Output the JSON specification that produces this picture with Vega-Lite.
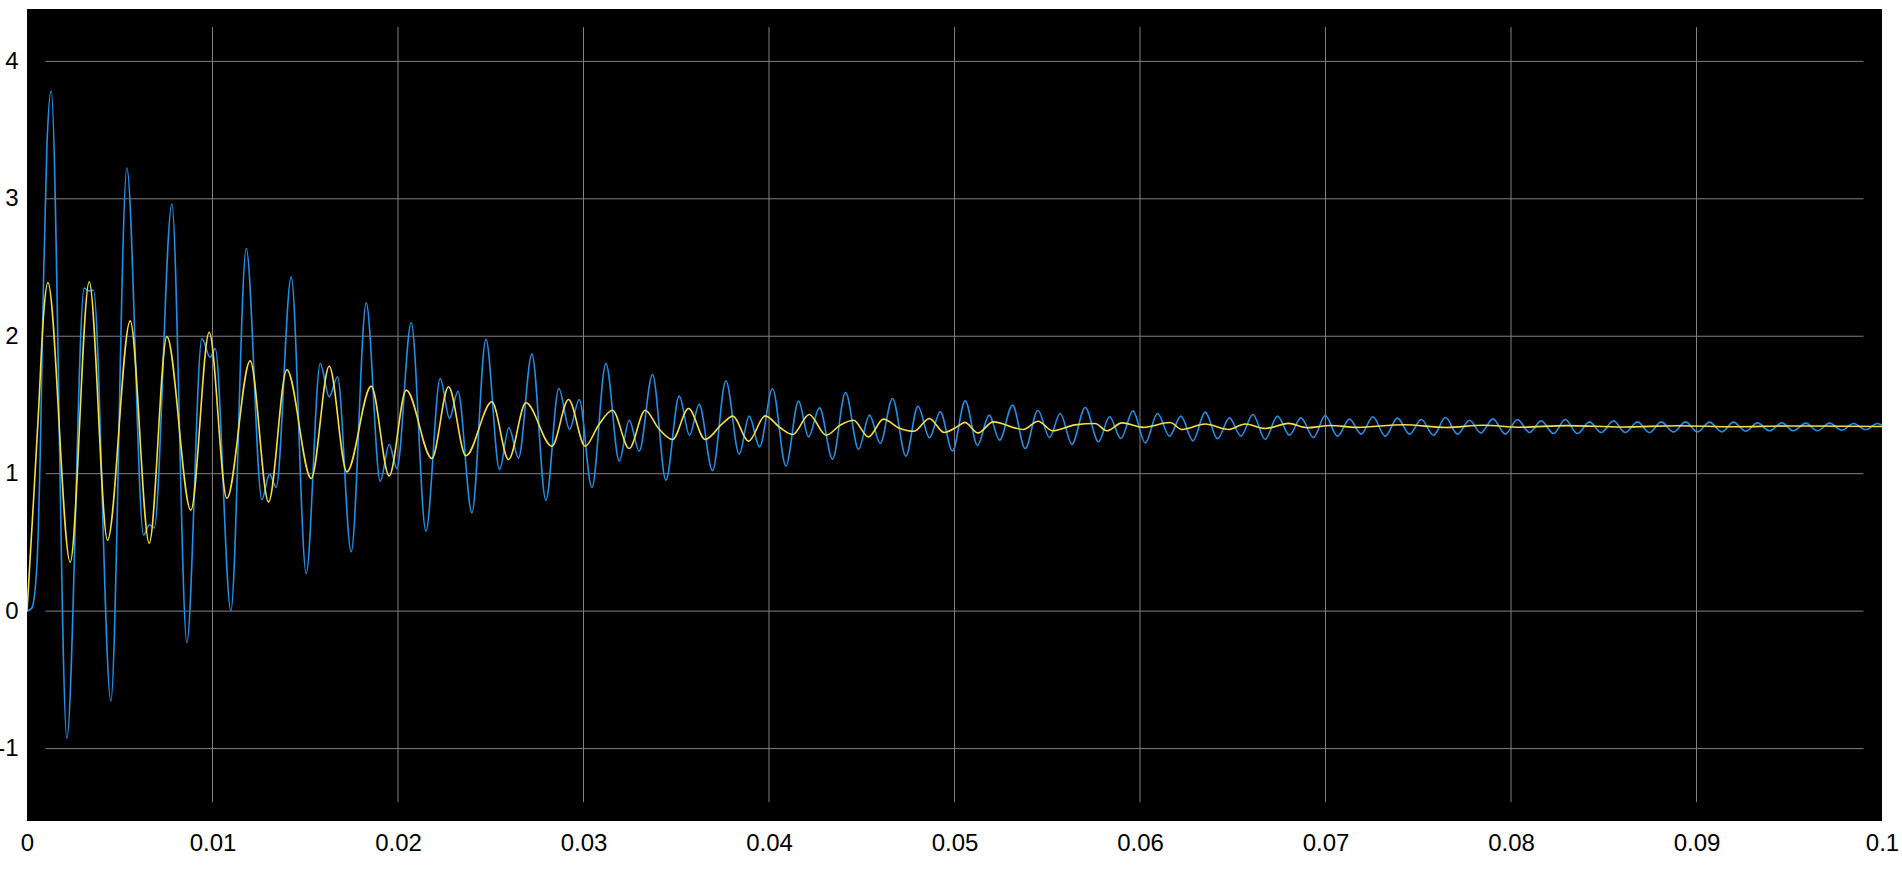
{
  "$schema": "https://vega.github.io/schema/vega-lite/v6.json",
  "width": 1855,
  "height": 812,
  "autosize": "none",
  "padding": {"left": 27, "top": 9, "right": 20, "bottom": 75},
  "background": "white",
  "view": {"fill": "black", "stroke": null},
  "datasets": {
    "hgrid": [{"g": -1}, {"g": 0}, {"g": 1}, {"g": 2}, {"g": 3}, {"g": 4}],
    "vgrid": [{"g": 0.01}, {"g": 0.02}, {"g": 0.03}, {"g": 0.04}, {"g": 0.05}, {"g": 0.06}, {"g": 0.07}, {"g": 0.08}, {"g": 0.09}],
    "blue": [
      {"t": 0, "v": 0}, {"t": 0.00025, "v": 0.02}, {"t": 0.00053, "v": 0.32}, {"t": 0.00071, "v": 1.13}, {"t": 0.00089, "v": 2.4}, {"t": 0.00107, "v": 3.37},
      {"t": 0.001305, "v": 3.785}, {"t": 0.00215, "v": -0.926}, {"t": 0.003084, "v": 2.35}, {"t": 0.003335, "v": 2.33}, {"t": 0.003586, "v": 2.335},
      {"t": 0.004521, "v": -0.654}, {"t": 0.005384, "v": 3.224}, {"t": 0.006282, "v": 0.554}, {"t": 0.006605, "v": 0.628}, {"t": 0.006857, "v": 0.606},
      {"t": 0.00781, "v": 2.962}, {"t": 0.008618, "v": -0.228}, {"t": 0.009427, "v": 1.984}, {"t": 0.009876, "v": 1.846}, {"t": 0.010146, "v": 1.91},
      {"t": 0.01099, "v": 0.003}, {"t": 0.011817, "v": 2.638}, {"t": 0.012661, "v": 0.811}, {"t": 0.013074, "v": 0.997}, {"t": 0.013434, "v": 0.901},
      {"t": 0.014243, "v": 2.432}, {"t": 0.015051, "v": 0.274}, {"t": 0.015806, "v": 1.802}, {"t": 0.016291, "v": 1.559}, {"t": 0.016739, "v": 1.705},
      {"t": 0.017477, "v": 0.431}, {"t": 0.018286, "v": 2.243}, {"t": 0.019041, "v": 0.945}, {"t": 0.019526, "v": 1.212}, {"t": 0.01994, "v": 1.037},
      {"t": 0.020712, "v": 2.098}, {"t": 0.021504, "v": 0.582}, {"t": 0.022275, "v": 1.693}, {"t": 0.022777, "v": 1.402}, {"t": 0.023229, "v": 1.6},
      {"t": 0.023984, "v": 0.715}, {"t": 0.024739, "v": 1.977}, {"t": 0.025472, "v": 1.03}, {"t": 0.025978, "v": 1.334}, {"t": 0.026496, "v": 1.115},
      {"t": 0.027218, "v": 1.87}, {"t": 0.027973, "v": 0.807}, {"t": 0.02867, "v": 1.62}, {"t": 0.029246, "v": 1.322}, {"t": 0.029768, "v": 1.54},
      {"t": 0.030453, "v": 0.9}, {"t": 0.031208, "v": 1.802}, {"t": 0.031925, "v": 1.093}, {"t": 0.032463, "v": 1.389}, {"t": 0.033003, "v": 1.164},
      {"t": 0.03372, "v": 1.722}, {"t": 0.034441, "v": 0.953}, {"t": 0.035159, "v": 1.564}, {"t": 0.035715, "v": 1.28}, {"t": 0.036237, "v": 1.504},
      {"t": 0.036955, "v": 1.021}, {"t": 0.037675, "v": 1.676}, {"t": 0.038393, "v": 1.142}, {"t": 0.038932, "v": 1.419}, {"t": 0.039489, "v": 1.195},
      {"t": 0.040189, "v": 1.618}, {"t": 0.040911, "v": 1.057}, {"t": 0.041591, "v": 1.528}, {"t": 0.04213, "v": 1.268}, {"t": 0.042723, "v": 1.479},
      {"t": 0.043425, "v": 1.106}, {"t": 0.044127, "v": 1.591}, {"t": 0.044825, "v": 1.178}, {"t": 0.045418, "v": 1.426}, {"t": 0.045995, "v": 1.22},
      {"t": 0.046658, "v": 1.547}, {"t": 0.04738, "v": 1.127}, {"t": 0.048027, "v": 1.491}, {"t": 0.048652, "v": 1.261}, {"t": 0.049229, "v": 1.45},
      {"t": 0.049892, "v": 1.166}, {"t": 0.050577, "v": 1.53}, {"t": 0.05124, "v": 1.207}, {"t": 0.051871, "v": 1.426}, {"t": 0.052426, "v": 1.244},
      {"t": 0.053127, "v": 1.499}, {"t": 0.053812, "v": 1.183}, {"t": 0.054496, "v": 1.462}, {"t": 0.055122, "v": 1.263}, {"t": 0.055698, "v": 1.438},
      {"t": 0.056329, "v": 1.215}, {"t": 0.057046, "v": 1.482}, {"t": 0.057763, "v": 1.232}, {"t": 0.058356, "v": 1.414}, {"t": 0.058971, "v": 1.256},
      {"t": 0.059618, "v": 1.457}, {"t": 0.06028, "v": 1.224}, {"t": 0.060944, "v": 1.438}, {"t": 0.06159, "v": 1.273}, {"t": 0.062205, "v": 1.419},
      {"t": 0.062852, "v": 1.239}, {"t": 0.063515, "v": 1.448}, {"t": 0.064178, "v": 1.254}, {"t": 0.064825, "v": 1.406}, {"t": 0.065439, "v": 1.273},
      {"t": 0.066086, "v": 1.431}, {"t": 0.066749, "v": 1.249}, {"t": 0.067412, "v": 1.419}, {"t": 0.068059, "v": 1.28}, {"t": 0.068674, "v": 1.406},
      {"t": 0.069353, "v": 1.263}, {"t": 0.069984, "v": 1.423}, {"t": 0.070647, "v": 1.273}, {"t": 0.071294, "v": 1.397}, {"t": 0.071925, "v": 1.288},
      {"t": 0.072555, "v": 1.414}, {"t": 0.073218, "v": 1.273}, {"t": 0.073881, "v": 1.404}, {"t": 0.074528, "v": 1.288}, {"t": 0.075159, "v": 1.394},
      {"t": 0.075822, "v": 1.28}, {"t": 0.076469, "v": 1.409}, {"t": 0.077116, "v": 1.288}, {"t": 0.077763, "v": 1.389}, {"t": 0.078377, "v": 1.297},
      {"t": 0.079024, "v": 1.399}, {"t": 0.079687, "v": 1.288}, {"t": 0.08035, "v": 1.394}, {"t": 0.080997, "v": 1.3}, {"t": 0.081628, "v": 1.384},
      {"t": 0.082291, "v": 1.292}, {"t": 0.082922, "v": 1.394}, {"t": 0.083585, "v": 1.292}, {"t": 0.084232, "v": 1.377}, {"t": 0.084863, "v": 1.3},
      {"t": 0.085526, "v": 1.384}, {"t": 0.086156, "v": 1.3}, {"t": 0.086819, "v": 1.377}, {"t": 0.087466, "v": 1.3}, {"t": 0.088097, "v": 1.377},
      {"t": 0.08876, "v": 1.304}, {"t": 0.089407, "v": 1.377}, {"t": 0.090054, "v": 1.304}, {"t": 0.090701, "v": 1.375}, {"t": 0.091366, "v": 1.304},
      {"t": 0.091992, "v": 1.375}, {"t": 0.092661, "v": 1.309}, {"t": 0.093286, "v": 1.37}, {"t": 0.093933, "v": 1.312}, {"t": 0.094602, "v": 1.37},
      {"t": 0.095226, "v": 1.312}, {"t": 0.095895, "v": 1.368}, {"t": 0.09652, "v": 1.312}, {"t": 0.097167, "v": 1.368}, {"t": 0.097836, "v": 1.316},
      {"t": 0.098461, "v": 1.365}, {"t": 0.099129, "v": 1.321}, {"t": 0.099755, "v": 1.365}, {"t": 0.1, "v": 1.353}
    ],
    "yellow": [
      {"t": 0, "v": 0}, {"t": 0.00035, "v": 0.8}, {"t": 0.00062, "v": 1.45}, {"t": 0.00089, "v": 2.15}, {"t": 0.001125, "v": 2.391},
      {"t": 0.002329, "v": 0.356}, {"t": 0.003353, "v": 2.397}, {"t": 0.004341, "v": 0.516}, {"t": 0.005563, "v": 2.112}, {"t": 0.006588, "v": 0.494},
      {"t": 0.00754, "v": 1.997}, {"t": 0.008834, "v": 0.734}, {"t": 0.009822, "v": 2.029}, {"t": 0.010775, "v": 0.821}, {"t": 0.012032, "v": 1.821},
      {"t": 0.01302, "v": 0.795}, {"t": 0.014009, "v": 1.756}, {"t": 0.015321, "v": 0.965}, {"t": 0.016291, "v": 1.782}, {"t": 0.017245, "v": 1.013},
      {"t": 0.018555, "v": 1.637}, {"t": 0.019526, "v": 0.984}, {"t": 0.020442, "v": 1.608}, {"t": 0.021827, "v": 1.111}, {"t": 0.022723, "v": 1.632},
      {"t": 0.02366, "v": 1.13}, {"t": 0.025062, "v": 1.523}, {"t": 0.02596, "v": 1.103}, {"t": 0.026895, "v": 1.516}, {"t": 0.028296, "v": 1.2},
      {"t": 0.029193, "v": 1.54}, {"t": 0.030092, "v": 1.2}, {"t": 0.030809, "v": 1.353}, {"t": 0.031563, "v": 1.462}, {"t": 0.032463, "v": 1.183},
      {"t": 0.033326, "v": 1.462}, {"t": 0.034043, "v": 1.33}, {"t": 0.034801, "v": 1.249}, {"t": 0.035663, "v": 1.474}, {"t": 0.03656, "v": 1.249},
      {"t": 0.03746, "v": 1.36}, {"t": 0.038053, "v": 1.419}, {"t": 0.038895, "v": 1.237}, {"t": 0.039795, "v": 1.421}, {"t": 0.040604, "v": 1.334},
      {"t": 0.04129, "v": 1.285}, {"t": 0.042165, "v": 1.431}, {"t": 0.043083, "v": 1.28}, {"t": 0.043838, "v": 1.353}, {"t": 0.044556, "v": 1.389},
      {"t": 0.045364, "v": 1.268}, {"t": 0.046173, "v": 1.397}, {"t": 0.047, "v": 1.333}, {"t": 0.04783, "v": 1.309}, {"t": 0.048638, "v": 1.402},
      {"t": 0.049447, "v": 1.3}, {"t": 0.050216, "v": 1.348}, {"t": 0.050556, "v": 1.373}, {"t": 0.051274, "v": 1.297}, {"t": 0.052083, "v": 1.377},
      {"t": 0.0537, "v": 1.322}, {"t": 0.054509, "v": 1.382}, {"t": 0.055285, "v": 1.312}, {"t": 0.0565, "v": 1.355}, {"t": 0.057584, "v": 1.365},
      {"t": 0.058216, "v": 1.312}, {"t": 0.059025, "v": 1.37}, {"t": 0.06017, "v": 1.337}, {"t": 0.061628, "v": 1.372}, {"t": 0.062259, "v": 1.322},
      {"t": 0.063515, "v": 1.362}, {"t": 0.064771, "v": 1.322}, {"t": 0.065671, "v": 1.362}, {"t": 0.066749, "v": 1.329}, {"t": 0.068007, "v": 1.366},
      {"t": 0.068998, "v": 1.334}, {"t": 0.070253, "v": 1.351}, {"t": 0.071693, "v": 1.337}, {"t": 0.074205, "v": 1.356}, {"t": 0.0765, "v": 1.336},
      {"t": 0.0785, "v": 1.352}, {"t": 0.0805, "v": 1.338}, {"t": 0.083, "v": 1.35}, {"t": 0.086, "v": 1.34}, {"t": 0.089, "v": 1.349},
      {"t": 0.092, "v": 1.341}, {"t": 0.095, "v": 1.347}, {"t": 0.1, "v": 1.343}
    ]
  },
  "layer": [
    {
      "data": {"name": "hgrid"},
      "mark": {"type": "rule", "color": "#808080", "strokeWidth": 1},
      "encoding": {
        "y": {"field": "g", "type": "quantitative"},
        "x": {"datum": 0.001, "type": "quantitative"},
        "x2": {"datum": 0.099}
      }
    },
    {
      "data": {"name": "vgrid"},
      "mark": {"type": "rule", "color": "#808080", "strokeWidth": 1},
      "encoding": {
        "x": {"field": "g", "type": "quantitative"},
        "y": {"datum": 4.25, "type": "quantitative"},
        "y2": {"datum": -1.39}
      }
    },
    {
      "data": {"name": "blue"},
      "mark": {"type": "line", "color": "#1f8fe8", "strokeWidth": 1.6, "interpolate": "monotone", "clip": true},
      "encoding": {
        "x": {"field": "t", "type": "quantitative", "scale": {"domain": [0, 0.1], "nice": false, "zero": false},
          "axis": {"values": [0, 0.01, 0.02, 0.03, 0.04, 0.05, 0.06, 0.07, 0.08, 0.09, 0.1], "labelExpr": "'' + datum.value", "labelFlush": false, "labelPadding": 10,
            "labelFont": "Liberation Sans", "labelFontSize": 24, "labelColor": "black", "domain": false, "ticks": false, "grid": false, "title": null}},
        "y": {"field": "v", "type": "quantitative", "scale": {"domain": [-1.527, 4.381], "nice": false, "zero": false},
          "axis": {"values": [-1, 0, 1, 2, 3, 4], "labelExpr": "'' + datum.value", "labelPadding": 9,
            "labelFont": "Liberation Sans", "labelFontSize": 24, "labelColor": "black", "domain": false, "ticks": false, "grid": false, "title": null}}
      }
    },
    {
      "data": {"name": "yellow"},
      "mark": {"type": "line", "color": "#f5df45", "strokeWidth": 1.6, "interpolate": "monotone", "clip": true},
      "encoding": {
        "x": {"field": "t", "type": "quantitative"},
        "y": {"field": "v", "type": "quantitative"}
      }
    }
  ]
}
